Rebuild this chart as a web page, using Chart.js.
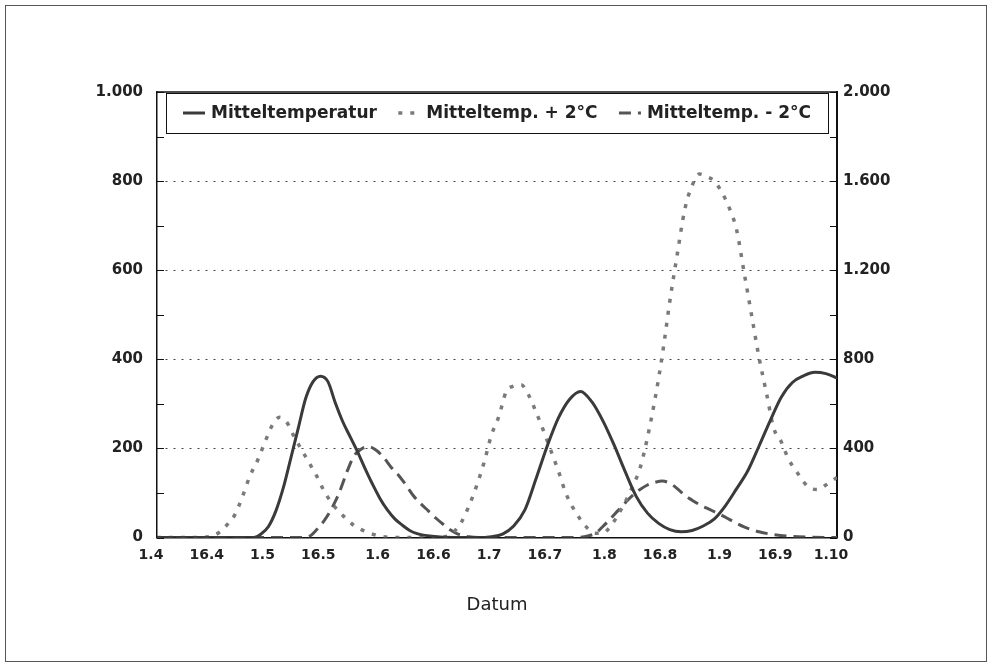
<!DOCTYPE html>
<html>
<head>
<meta charset="utf-8">
<script src="https://cdn.jsdelivr.net/npm/chart.js@4.4.1/dist/chart.umd.min.js"></script>
<style>
html,body{margin:0;padding:0;background:#fff;}
canvas{display:block;}
</style>
</head>
<body>
<canvas id="c" width="993" height="664"></canvas>
<script>
// ---- data (x = days after 1 April) ----
const seriesNames = ['Mitteltemperatur', 'Mitteltemp. + 2°C', 'Mitteltemp. - 2°C'];
const xTickDays   = [0, 15, 30, 45, 61, 76, 91, 106, 122, 137, 153, 168, 183];
const xTickLabels = ['1.4', '16.4', '1.5', '16.5', '1.6', '16.6', '1.7', '16.7', '1.8', '16.8', '1.9', '16.9', '1.10'];
const axisTitle = 'Datum';

// Mitteltemperatur (left axis)
const mittelDays   = [0,10,20,26,28,30,32,34,36,38,40,42,44,46,48,50,52,54,56,58,60,62,64,66,68,70,74,80,86,90,93,96,99,102,105,108,111,114,117,120,123,126,129,132,135,138,141,144,147,150,153,156,159,162,165,168,171,174,177,180,183];
const mittelValues = [0,0,0,0,8,25,60,112,178,245,312,350,362,350,302,260,226,192,155,120,88,62,42,28,16,9,3,0,0,2,8,26,62,132,205,268,310,328,305,262,208,148,92,55,32,18,13,16,26,42,72,110,150,205,262,315,348,363,371,368,358];

// Mitteltemp. + 2°C (right axis)
const plusDays   = [0,10,14,17,19,21,23,25,27,29,31,33,35,37,39,41,43,45,47,49,51,53,55,57,60,65,70,75,78,80,82,84,86,88,90,92,94,96,98,100,102,104,106,108,110,112,114,116,118,120,122,124,126,128,130,132,134,136,138,140,142,144,146,148,150,152,154,156,158,160,162,164,166,168,170,172,174,176,178,180,183];
const plusValues = [0,0,4,26,60,104,184,276,344,426,504,540,516,450,392,334,276,208,156,116,84,54,36,22,6,0,0,0,6,28,72,144,232,336,460,544,656,680,686,640,564,480,390,300,200,132,80,40,20,20,50,100,160,230,312,450,620,820,1060,1270,1470,1580,1632,1620,1600,1550,1480,1380,1190,1000,810,650,490,430,350,300,250,220,216,236,270];

// Mitteltemp. - 2°C (left axis)
const minusDays   = [0,20,38,41,43,45,47,49,51,53,55,57,59,61,63,65,67,69,71,73,75,77,79,81,84,90,100,110,115,118,120,122,124,126,128,130,132,134,136,138,140,142,144,146,148,150,152,154,156,158,160,162,165,170,175,183];
const minusValues = [0,0,0,3,18,38,65,100,145,183,199,204,196,180,158,140,118,94,76,60,44,30,17,8,2,0,0,0,2,10,25,42,60,78,95,108,118,124,127,122,110,95,84,74,66,58,50,41,32,24,18,13,8,3,1,0];

const fmt = v => String(v).replace(/\B(?=(\d{3})+(?!\d))/g, '.');
const toPts = (xs, ys) => xs.map((d, i) => ({x: d, y: ys[i]}));

const tickFont = {family: 'DejaVu Sans', weight: 'bold', size: 15};
const xFont = {family: 'DejaVu Sans', weight: 'bold', size: 14};

const framePlugin = {
  id: 'framePlugin',
  beforeDraw(chart) {
    const c = chart.ctx;
    c.save(); c.fillStyle = '#fff'; c.fillRect(0, 0, chart.width, chart.height); c.restore();
  },
  afterDraw(chart) {
    const ctx = chart.ctx, a = chart.chartArea;
    const line = (x1, y1, x2, y2) => { ctx.beginPath(); ctx.moveTo(x1, y1); ctx.lineTo(x2, y2); ctx.stroke(); };
    ctx.save();
    // outer frame
    ctx.strokeStyle = '#555'; ctx.lineWidth = 1;
    ctx.strokeRect(5.5, 5.5, 981, 656);
    // top border of plot
    ctx.strokeStyle = '#111'; ctx.lineWidth = 1.5;
    line(a.left, a.top, a.right, a.top);
    // inward tick marks
    ctx.lineWidth = 1;
    const ys = chart.scales.y, yr = chart.scales.y1;
    for (let v = ys.min; v <= ys.max; v += 100) {
      const p = Math.round(ys.getPixelForValue(v)) + 0.5;
      line(a.left, p, a.left + 7, p);
    }
    for (let v = yr.min; v <= yr.max; v += 200) {
      const p = Math.round(yr.getPixelForValue(v)) + 0.5;
      line(a.right - 7, p, a.right, p);
    }
    // legend box
    const bx = a.left + 9, by = a.top + 1, bw = a.right - 9 - bx, bh = 40;
    ctx.fillStyle = '#fff'; ctx.fillRect(bx, by, bw, bh);
    ctx.strokeStyle = '#111'; ctx.lineWidth = 1;
    ctx.strokeRect(Math.round(bx) + 0.5, Math.round(by) + 0.5, Math.round(bw), bh);
    ctx.font = 'bold 17px "DejaVu Sans"';
    const items = chart.data.datasets.map(ds => ({ds, w: ctx.measureText(ds.label).width}));
    const sample = 22, sgap = 6, inset = 17;
    const total = items.reduce((s, it) => s + sample + sgap + it.w, 0);
    const gap = (bw - 2 * inset - total) / (items.length - 1);
    let x = bx + inset; const cy = by + bh / 2;
    items.forEach(it => {
      ctx.save();
      ctx.strokeStyle = it.ds.borderColor; ctx.lineWidth = it.ds.borderWidth;
      ctx.setLineDash(it.ds.borderDash || []);
      line(x, cy, x + sample, cy);
      ctx.restore();
      ctx.fillStyle = '#222'; ctx.textBaseline = 'middle'; ctx.textAlign = 'left';
      ctx.font = 'bold 17px "DejaVu Sans"';
      ctx.fillText(it.ds.label, x + sample + sgap, cy + 1);
      x += sample + sgap + it.w + gap;
    });
    ctx.restore();
  }
};

new Chart(document.getElementById('c'), {
  type: 'line',
  data: {
    datasets: [
      {label: seriesNames[0], data: toPts(mittelDays, mittelValues), yAxisID: 'y',
       borderColor: '#3a3a3a', borderWidth: 3, borderDash: [], pointRadius: 0, cubicInterpolationMode: 'monotone'},
      {label: seriesNames[1], data: toPts(plusDays, plusValues), yAxisID: 'y1',
       borderColor: '#7a7a7a', borderWidth: 3.5, borderDash: [4, 8], pointRadius: 0, cubicInterpolationMode: 'monotone'},
      {label: seriesNames[2], data: toPts(minusDays, minusValues), yAxisID: 'y',
       borderColor: '#555', borderWidth: 3, borderDash: [12, 7], pointRadius: 0, cubicInterpolationMode: 'monotone'}
    ]
  },
  options: {
    responsive: false, animation: false, devicePixelRatio: 1,
    layout: {padding: {top: 92, left: 0, right: 0, bottom: 26}},
    plugins: {legend: {display: false}, tooltip: {enabled: false}},
    scales: {
      x: {
        type: 'linear', min: 0, max: 183,
        afterBuildTicks: s => { s.ticks = xTickDays.map(v => ({value: v})); },
        ticks: {autoSkip: false, maxRotation: 0, padding: 9, labelOffset: -6, font: xFont, color: '#222',
                callback: (v, i) => xTickLabels[i]},
        grid: {drawOnChartArea: false, drawTicks: false},
        border: {color: '#111', width: 1.5},
        title: {display: true, text: axisTitle, color: '#222',
                font: {family: 'DejaVu Sans', size: 18}, padding: {top: 22, bottom: 22}}
      },
      y: {
        position: 'left', min: 0, max: 1000,
        afterFit: s => { s.width = 157; },
        ticks: {stepSize: 200, padding: 14, font: tickFont, color: '#222', callback: v => fmt(v)},
        grid: {drawTicks: false, lineWidth: 1,
               color: c => (c.tick && c.tick.value > 0 && c.tick.value < 1000) ? '#444' : 'rgba(0,0,0,0)'},
        border: {color: '#111', width: 1.5, dash: [2, 6]}
      },
      y1: {
        position: 'right', min: 0, max: 2000,
        afterFit: s => { s.width = 156; },
        ticks: {stepSize: 400, padding: 6, font: tickFont, color: '#222', callback: v => fmt(v)},
        grid: {drawOnChartArea: false, drawTicks: false},
        border: {color: '#111', width: 2}
      }
    }
  },
  plugins: [framePlugin]
});
</script>
</body>
</html>
